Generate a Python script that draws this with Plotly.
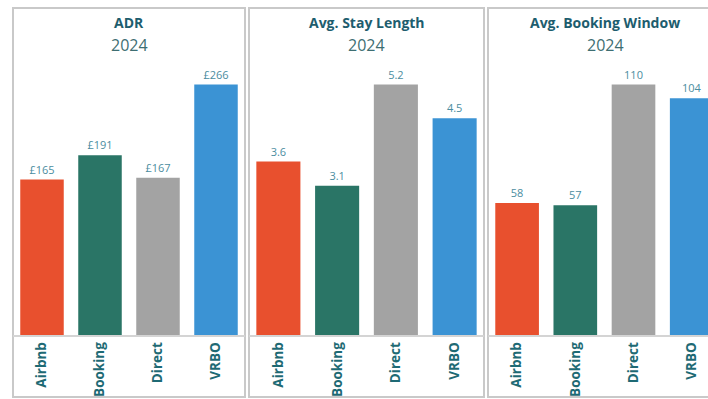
import plotly.graph_objects as go

categories = ["Airbnb", "Booking", "Direct", "VRBO"]
adr_values = [165, 191, 167, 266]
stay_values = [3.6, 3.1, 5.2, 4.5]
window_values = [58, 57, 110, 104]
panel_titles = ["ADR", "Avg. Stay Length", "Avg. Booking Window"]
panel_year = "2024"
bar_colors = ["#e8502e", "#2a7566", "#a3a3a3", "#3b93d4"]

W, H = 708, 399
fig = go.Figure()

panels = [
    (adr_values, "£%{y}", 13, 245, 3.5),
    (stay_values, "%{y}", 249, 484, 3.5),
    (window_values, "%{y}", 488, 722, 3.28),
]

base_px = 335
top_px = 70
for i, (vals, tmpl, x0, x1, xr) in enumerate(panels):
    n = "" if i == 0 else str(i + 1)
    fig.add_trace(go.Bar(
        x=categories, y=vals, marker=dict(color=bar_colors, line=dict(width=0)),
        width=0.75, texttemplate=tmpl, textposition="outside", cliponaxis=False,
        textfont=dict(family="Open Sans", size=11, color="#4b8da0"),
        xaxis="x" + n, yaxis="y" + n, showlegend=False, hoverinfo="skip",
    ))
    dom_x1 = min(x1, W) / W
    mx = max(vals)
    fig.update_layout(**{
        "xaxis" + n: dict(domain=[x0 / W, dom_x1], range=[-0.5, xr], showgrid=False,
                          showline=True, linecolor="#d4d4d4", linewidth=1.5,
                          tickangle=-90, ticks="", fixedrange=True,
                          tickfont=dict(family="Open Sans", size=13.5, color="#1e6a74", weight="bold"),
                          anchor="y" + n),
        "yaxis" + n: dict(domain=[(H - base_px) / H, (H - top_px) / H],
                          range=[0, mx * (base_px - top_px) / 250.5], visible=False,
                          anchor="x" + n),
    })
    fig.add_shape(type="rect", xref="paper", yref="paper",
                  x0=x0 / W, x1=x1 / W, y0=2 / H, y1=(H - 8) / H,
                  line=dict(color="#c9c9c9", width=2), fillcolor="rgba(0,0,0,0)", layer="below")
    cx = (x0 + x1) / 2 / W
    fig.add_annotation(text="<b>" + panel_titles[i] + "</b>", x=cx, y=(H - 22) / H,
                       xref="paper", yref="paper", showarrow=False, xanchor="center", yanchor="middle",
                       font=dict(family="Open Sans", size=14, color="#1d5d6e"))
    fig.add_annotation(text=panel_year, x=cx, y=(H - 45) / H,
                       xref="paper", yref="paper", showarrow=False, xanchor="center", yanchor="middle",
                       font=dict(family="Open Sans", size=16, color="#3e6e72"))

fig.update_layout(width=W, height=H, margin=dict(l=0, r=0, t=0, b=0),
                  paper_bgcolor="white", plot_bgcolor="white", bargap=0.25)
fig.write_html("out.html", config={"displayModeBar": False})
